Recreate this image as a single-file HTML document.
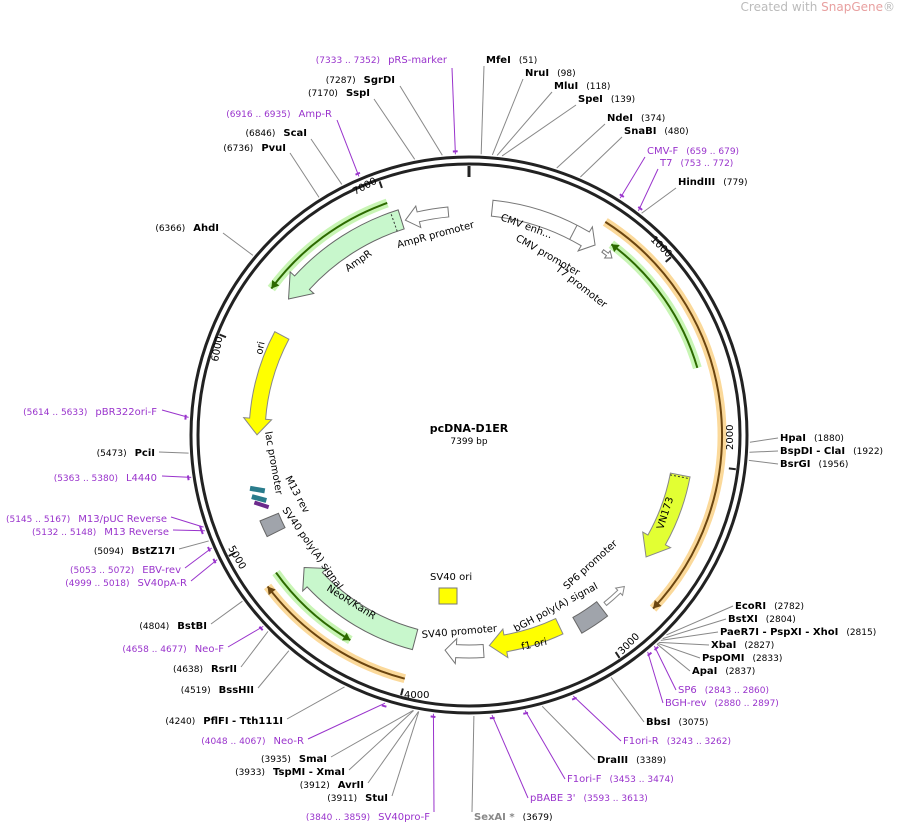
<!DOCTYPE html>
<html><head><meta charset="utf-8"><style>
body{margin:0;background:#fff}
svg{display:block;font-family:"DejaVu Sans","Liberation Sans",sans-serif}
.b{font-weight:bold;font-size:10px;fill:#000}
.n{font-size:9px;fill:#000}
.p{font-size:10px;fill:#9933cc}
.pn{font-size:9px;fill:#9933cc}
.f{font-size:10px;fill:#000}
</style></head><body>
<svg id="s" width="901" height="825" viewBox="0 0 901 825">
<text x="895" y="11" text-anchor="end" style="font-size:12px;fill:#bbb">Created with <tspan fill="#e8a0a0">SnapGene</tspan>®</text>
<g id="g"></g>
<text x="469" y="432" text-anchor="middle" style="font-size:11px;font-weight:bold">pcDNA-D1ER</text>
<text x="469" y="444" text-anchor="middle" style="font-size:9px">7399 bp</text>
<text class="f" transform="translate(650,240) rotate(45)" font-size="9">1000</text>
<text class="f" transform="translate(733,450) rotate(-90)" font-size="9">2000</text>
<text class="f" transform="translate(622,655) rotate(-45)" font-size="9">3000</text>
<text class="f" x="404" y="698" font-size="9">4000</text>
<text class="f" transform="translate(228,548) rotate(60)" font-size="9">5000</text>
<text class="f" transform="translate(218,362) rotate(-80)" font-size="9">6000</text>
<text class="f" transform="translate(355,195) rotate(-28)" font-size="9">7000</text>
<text class="f" transform="translate(500,220) rotate(20)">CMV enh...</text>
<text class="f" transform="translate(515,240) rotate(30)">CMV promoter</text>
<text class="f" transform="translate(555,270) rotate(38)">T7 promoter</text>
<text class="f" transform="translate(398,248) rotate(-15)">AmpR promoter</text>
<text class="f" transform="translate(348,272) rotate(-35)">AmpR</text>
<text class="f" transform="translate(262,355) rotate(-78)">ori</text>
<text class="f" transform="translate(265,432) rotate(80)">lac promoter</text>
<text class="f" transform="translate(285,478) rotate(62)">M13 rev</text>
<text class="f" transform="translate(282,510) rotate(55)">SV40 poly(A) signal</text>
<text class="f" transform="translate(326,590) rotate(32)">NeoR/KanR</text>
<text class="f" transform="translate(422,638) rotate(-5)">SV40 promoter</text>
<text class="f" x="430" y="580">SV40 ori</text>
<text class="f" transform="translate(522,650) rotate(-12)">f1 ori</text>
<text class="f" transform="translate(516,632) rotate(-28)">bGH poly(A) signal</text>
<text class="f" transform="translate(567,590) rotate(-42)">SP6 promoter</text>
<text class="f" transform="translate(663,530) rotate(-72)">VN173</text>
<text x="486" y="63"><tspan class="b">MfeI</tspan><tspan class="n" dx="8">(51)</tspan></text>
<text x="525" y="76"><tspan class="b">NruI</tspan><tspan class="n" dx="8">(98)</tspan></text>
<text x="554" y="89"><tspan class="b">MluI</tspan><tspan class="n" dx="8">(118)</tspan></text>
<text x="578" y="102"><tspan class="b">SpeI</tspan><tspan class="n" dx="8">(139)</tspan></text>
<text x="607" y="121"><tspan class="b">NdeI</tspan><tspan class="n" dx="8">(374)</tspan></text>
<text x="624" y="134"><tspan class="b">SnaBI</tspan><tspan class="n" dx="8">(480)</tspan></text>
<text x="647" y="154"><tspan class="p">CMV-F</tspan><tspan class="pn" dx="8">(659 .. 679)</tspan></text>
<text x="660" y="166"><tspan class="p">T7</tspan><tspan class="pn" dx="8">(753 .. 772)</tspan></text>
<text x="678" y="185"><tspan class="b">HindIII</tspan><tspan class="n" dx="8">(779)</tspan></text>
<text x="780" y="441"><tspan class="b">HpaI</tspan><tspan class="n" dx="8">(1880)</tspan></text>
<text x="780" y="454"><tspan class="b">BspDI</tspan><tspan class="b"> - ClaI</tspan><tspan class="n" dx="8">(1922)</tspan></text>
<text x="780" y="467"><tspan class="b">BsrGI</tspan><tspan class="n" dx="8">(1956)</tspan></text>
<text x="735" y="609"><tspan class="b">EcoRI</tspan><tspan class="n" dx="8">(2782)</tspan></text>
<text x="728" y="622"><tspan class="b">BstXI</tspan><tspan class="n" dx="8">(2804)</tspan></text>
<text x="720" y="635"><tspan class="b">PaeR7I - PspXI - XhoI</tspan><tspan class="n" dx="8">(2815)</tspan></text>
<text x="711" y="648"><tspan class="b">XbaI</tspan><tspan class="n" dx="8">(2827)</tspan></text>
<text x="702" y="661"><tspan class="b">PspOMI</tspan><tspan class="n" dx="8">(2833)</tspan></text>
<text x="692" y="674"><tspan class="b">ApaI</tspan><tspan class="n" dx="8">(2837)</tspan></text>
<text x="678" y="693"><tspan class="p">SP6</tspan><tspan class="pn" dx="8">(2843 .. 2860)</tspan></text>
<text x="665" y="706"><tspan class="p">BGH-rev</tspan><tspan class="pn" dx="8">(2880 .. 2897)</tspan></text>
<text x="646" y="725"><tspan class="b">BbsI</tspan><tspan class="n" dx="8">(3075)</tspan></text>
<text x="623" y="744"><tspan class="p">F1ori-R</tspan><tspan class="pn" dx="8">(3243 .. 3262)</tspan></text>
<text x="597" y="763"><tspan class="b">DraIII</tspan><tspan class="n" dx="8">(3389)</tspan></text>
<text x="567" y="782"><tspan class="p">F1ori-F</tspan><tspan class="pn" dx="8">(3453 .. 3474)</tspan></text>
<text x="530" y="801"><tspan class="p">pBABE 3'</tspan><tspan class="pn" dx="8">(3593 .. 3613)</tspan></text>
<text x="474" y="820"><tspan class="b" style="fill:#888">SexAI *</tspan><tspan class="n" dx="8">(3679)</tspan></text>
<g text-anchor="end">
<text x="447" y="63"><tspan class="pn">(7333 .. 7352)</tspan><tspan class="p" dx="8">pRS-marker</tspan></text>
<text x="395" y="83"><tspan class="n">(7287)</tspan><tspan class="b" dx="8">SgrDI</tspan></text>
<text x="370" y="96"><tspan class="n">(7170)</tspan><tspan class="b" dx="8">SspI</tspan></text>
<text x="332" y="117"><tspan class="pn">(6916 .. 6935)</tspan><tspan class="p" dx="8">Amp-R</tspan></text>
<text x="307" y="136"><tspan class="n">(6846)</tspan><tspan class="b" dx="8">ScaI</tspan></text>
<text x="286" y="151"><tspan class="n">(6736)</tspan><tspan class="b" dx="8">PvuI</tspan></text>
<text x="219" y="231"><tspan class="n">(6366)</tspan><tspan class="b" dx="8">AhdI</tspan></text>
<text x="157" y="415"><tspan class="pn">(5614 .. 5633)</tspan><tspan class="p" dx="8">pBR322ori-F</tspan></text>
<text x="155" y="456"><tspan class="n">(5473)</tspan><tspan class="b" dx="8">PciI</tspan></text>
<text x="157" y="481"><tspan class="pn">(5363 .. 5380)</tspan><tspan class="p" dx="8">L4440</tspan></text>
<text x="167" y="522"><tspan class="pn">(5145 .. 5167)</tspan><tspan class="p" dx="8">M13/pUC Reverse</tspan></text>
<text x="169" y="535"><tspan class="pn">(5132 .. 5148)</tspan><tspan class="p" dx="8">M13 Reverse</tspan></text>
<text x="175" y="554"><tspan class="n">(5094)</tspan><tspan class="b" dx="8">BstZ17I</tspan></text>
<text x="181" y="573"><tspan class="pn">(5053 .. 5072)</tspan><tspan class="p" dx="8">EBV-rev</tspan></text>
<text x="187" y="586"><tspan class="pn">(4999 .. 5018)</tspan><tspan class="p" dx="8">SV40pA-R</tspan></text>
<text x="207" y="629"><tspan class="n">(4804)</tspan><tspan class="b" dx="8">BstBI</tspan></text>
<text x="224" y="652"><tspan class="pn">(4658 .. 4677)</tspan><tspan class="p" dx="8">Neo-F</tspan></text>
<text x="237" y="672"><tspan class="n">(4638)</tspan><tspan class="b" dx="8">RsrII</tspan></text>
<text x="254" y="693"><tspan class="n">(4519)</tspan><tspan class="b" dx="8">BssHII</tspan></text>
<text x="283" y="724"><tspan class="n">(4240)</tspan><tspan class="b" dx="8">PflFI - Tth111I</tspan></text>
<text x="304" y="744"><tspan class="pn">(4048 .. 4067)</tspan><tspan class="p" dx="8">Neo-R</tspan></text>
<text x="327" y="762"><tspan class="n">(3935)</tspan><tspan class="b" dx="8">SmaI</tspan></text>
<text x="345" y="775"><tspan class="n">(3933)</tspan><tspan class="b" dx="8">TspMI - XmaI</tspan></text>
<text x="364" y="788"><tspan class="n">(3912)</tspan><tspan class="b" dx="8">AvrII</tspan></text>
<text x="388" y="801"><tspan class="n">(3911)</tspan><tspan class="b" dx="8">StuI</tspan></text>
<text x="430" y="820"><tspan class="pn">(3840 .. 3859)</tspan><tspan class="p" dx="8">SV40pro-F</tspan></text>
</g>
</svg>
<script>
const cx=469,cy=435,N=7399,NS="http://www.w3.org/2000/svg",g=document.getElementById('g');
function pt(p,r){const a=p/N*2*Math.PI;return [cx+r*Math.sin(a),cy-r*Math.cos(a)];}
function el(t,a){const e=document.createElementNS(NS,t);for(const k in a)e.setAttribute(k,a[k]);g.appendChild(e);return e;}
function arc(r,p1,p2){const a=pt(p1,r),b=pt(p2,r),l=(p2-p1)>N/2?1:0;return `M${a[0]},${a[1]}A${r},${r} 0 ${l} 1 ${b[0]},${b[1]}`;}
function arcR(r,p1,p2){const b=pt(p1,r),l=(p2-p1)>N/2?1:0;return `A${r},${r} 0 ${l} 0 ${b[0]},${b[1]}`;}
function L(p,r){const a=pt(p,r);return `L${a[0]},${a[1]}`;}
function M(p,r){const a=pt(p,r);return `M${a[0]},${a[1]}`;}
function arrow(r1,r2,p1,p2,head,fill,stroke,h,w){h=h||90;w=(w===undefined)?6:w;const m=(r1+r2)/2;let d;
 if(head=='e'){const q=p2-h;d=arc(r2,p1,q)+L(q,r2+w)+L(p2,m)+L(q,r1-w)+L(q,r1)+arcR(r1,p1,q)+'Z';}
 else if(head=='s'){const q=p1+h;const a2=pt(p2,r2),l=(p2-q)>N/2?1:0;
  d=M(p1,m)+L(q,r2+w)+L(q,r2)+`A${r2},${r2} 0 ${l} 1 ${a2[0]},${a2[1]}`+L(p2,r1)+arcR(r1,q,p2)+L(q,r1-w)+'Z';}
 else{d=arc(r2,p1,p2)+L(p2,r1)+arcR(r1,p1,p2)+'Z';}
 el('path',{d,fill,stroke,'stroke-width':1});}
el('circle',{cx,cy,r:278,fill:'none',stroke:'#222','stroke-width':3});
el('circle',{cx,cy,r:271,fill:'none',stroke:'#222','stroke-width':3});
[1000,2000,3000,4000,5000,6000,7000].forEach(p=>{const a=pt(p,269),b=pt(p,262);el('line',{x1:a[0],y1:a[1],x2:b[0],y2:b[1],stroke:'#222','stroke-width':2});});
{const a=pt(0,269),b=pt(0,258);el('line',{x1:a[0],y1:a[1],x2:b[0],y2:b[1],stroke:'#222','stroke-width':3});}
function band(r,a,b,headAt,light,dark){el('path',{d:arc(r,a,b),fill:'none',stroke:light,'stroke-width':9});el('path',{d:arc(r,a,b),fill:'none',stroke:dark,'stroke-width':2});
 const p=headAt=='s'?a:b,q=headAt=='s'?a+35:b-35,t=pt(p,r),u=pt(q,r+4.5),v=pt(q,r-4.5);el('path',{d:`M${t[0]},${t[1]}L${u[0]},${u[1]}L${v[0]},${v[1]}Z`,fill:dark});}
band(253,670,2740,'e','#fbd99a','#6b4510');
band(252,4003,4790,'e','#fbd99a','#6b4510');
band(238,755,1513,'s','#c8f5b4','#2d6a00');
band(237,4317,4820,'s','#c8f5b4','#2d6a00');
band(246,6300,7000,'s','#c8f5b4','#2d6a00');
// CMV enh + promoter
arrow(220,236,120,690,'e','#fff','#777',60);
{const a=pt(560,220),b=pt(560,236);el('line',{x1:a[0],y1:a[1],x2:b[0],y2:b[1],stroke:'#777'});}
arrow(226,229,740,800,'e','#fff','#777',30,3);
arrow(205,225,2070,2560,'e','#e2ff33','#888',110);
{const a=pt(2080,205),b=pt(2080,225);el('line',{x1:a[0],y1:a[1],x2:b[0],y2:b[1],stroke:'#333','stroke-dasharray':'2,2'});}
arrow(215,219,2760,2900,'s','#fff','#888',40,3);
arrow(210,228,2930,3090,'n','#a0a4ab','#666');
arrow(203,220,3180,3586,'e','#ffff00','#888',90);
arrow(210,223,3620,3830,'e','#fff','#777',60);
arrow(201,222,4003,4752,'e','#c8f7cc','#666',90);
arrow(206,226,5000,5090,'n','#a0a4ab','#666');
arrow(204,220,5550,6125,'s','#ffff00','#888',90);
arrow(216,236,6310,7040,'s','#c8f7cc','#666',110);
{const a=pt(7000,216),b=pt(7000,236);el('line',{x1:a[0],y1:a[1],x2:b[0],y2:b[1],stroke:'#333','stroke-dasharray':'2,2'});}
arrow(219,229,7060,7290,'s','#fff','#777',70);
el('rect',{x:439,y:588,width:18,height:16,fill:'#ffff00',stroke:'#777'});
el('rect',{x:250,y:487,width:15,height:5,fill:'#2a7c8c',transform:'rotate(10 257 489)'});
el('rect',{x:252,y:496,width:15,height:5,fill:'#2a7c8c',transform:'rotate(15 259 497)'});
el('rect',{x:254,y:503,width:15,height:4,fill:'#6c2a8c',transform:'rotate(18 262 505)'});
const G='#888',P='#9933cc';
const Ls=[[51,484,66,G],[98,523,79,G],[118,552,92,G],[139,576,105,G],[374,605,124,G],[480,622,137,G],[669,645,157,P],[762,658,169,P],[779,676,188,G],
[1880,778,438,G],[1922,778,451,G],[1956,778,464,G],[2782,733,606,G],[2804,726,619,G],[2815,718,632,G],[2827,709,645,G],[2833,700,658,G],[2837,690,671,G],[2851,676,690,P],[2888,663,703,P],[3075,644,722,G],[3252,621,741,P],[3389,595,760,G],[3463,565,779,P],[3603,528,798,P],[3679,472,812,G],
[7342,452,68,P],[7287,400,86,G],[7170,374,99,G],[6925,337,120,P],[6846,311,139,G],[6736,290,153,G],[6366,223,233,G],[5623,162,410,P],[5473,159,452,G],[5371,162,476,P],[5156,171,517,P],[5140,173,530,P],[5094,179,549,G],[5062,185,568,P],[5008,191,581,P],[4804,211,624,G],[4667,228,647,P],[4638,241,667,G],[4519,258,688,G],[4240,287,719,G],[4057,308,739,P],[3935,331,757,G],[3933,349,770,G],[3912,368,783,G],[3911,392,796,G],[3849,434,812,P]];
Ls.forEach(([p,x,y,c])=>{const a=pt(p,281);el('line',{x1:a[0],y1:a[1],x2:x,y2:y,stroke:c,'stroke-width':1});
 if(c==P){el('path',{d:arc(284,p-10,p+10),fill:'none',stroke:P,'stroke-width':2});}});
</script>
</body></html>
